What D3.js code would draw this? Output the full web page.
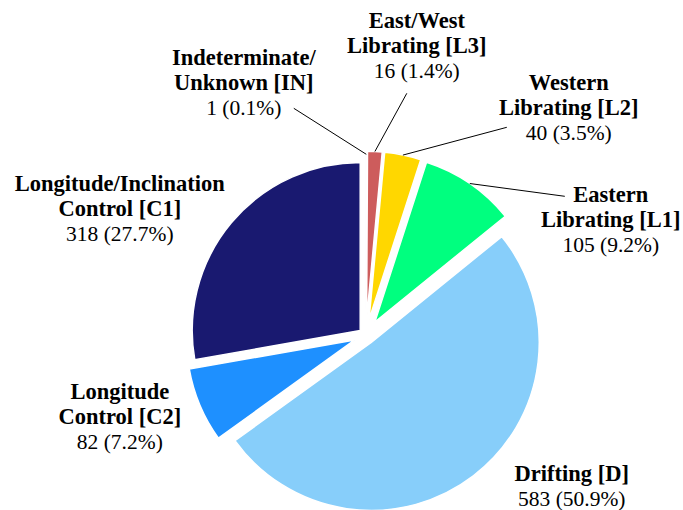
<!DOCTYPE html>
<html>
<head>
<meta charset="utf-8">
<script src="https://cdn.jsdelivr.net/npm/d3@7"></script>
<style>
  html, body { margin: 0; padding: 0; background: #fff; }
  svg { display: block; }
</style>
</head>
<body>
<svg id="chart" width="683" height="510"></svg>
<script>
// ---- data ----
const categories = ["Indeterminate/ Unknown [IN]", "East/West Librating [L3]", "Western Librating [L2]",
  "Eastern Librating [L1]", "Drifting [D]", "Longitude Control [C2]", "Longitude/Inclination Control [C1]"];
const titleLines = [
  ["Indeterminate/", "Unknown [IN]"],
  ["East/West", "Librating [L3]"],
  ["Western", "Librating [L2]"],
  ["Eastern", "Librating [L1]"],
  ["Drifting [D]"],
  ["Longitude", "Control [C2]"],
  ["Longitude/Inclination", "Control [C1]"]
];
const counts = [1, 16, 40, 105, 583, 82, 318];
const percentLabels = ["0.1%", "1.4%", "3.5%", "9.2%", "50.9%", "7.2%", "27.7%"];

// ---- style / layout config ----
const colors = ["#9370DB", "#CD5C5C", "#FFD700", "#00FF7F", "#87CEFA", "#1E90FF", "#191970"];
const explode = [13, 16, 16, 16, 9, 12, 7.3];
// label block anchor (center x, first line y) relative to the pie centre
const labelOffset = [[-122, -278], [51, -315], [203, -253], [245, -141], [206, 138], [-246, 56], [-246, -152]];
// leader line end relative to the pie centre (null = no line)
const leaderEnd = [[-72, -227], [41, -242], [141, -208], [199, -139], null, null, null];

const W = 683, H = 510;
const cx = 365.8, cy = 335.3, R = 168;
const lineH = 25.5;
const fontFamily = "'Liberation Serif', 'Times New Roman', serif";

const svg = d3.select("#chart");
const g = svg.append("g").attr("transform", `translate(${cx},${cy})`);

const pie = d3.pie().sort(null).value(d => d).startAngle(0).endAngle(2 * Math.PI);
const arcs = pie(counts);
const arc = d3.arc().innerRadius(0).outerRadius(R);

function offsetOf(a, i) {
  const mid = (a.startAngle + a.endAngle) / 2;
  return [Math.sin(mid) * explode[i], -Math.cos(mid) * explode[i]];
}

g.selectAll("path.slice")
  .data(arcs)
  .join("path")
  .attr("class", "slice")
  .attr("d", arc)
  .attr("transform", (a, i) => { const o = offsetOf(a, i); return `translate(${o[0]},${o[1]})`; })
  .attr("fill", (a, i) => colors[i])
  .attr("stroke", "#fff")
  .attr("stroke-width", 1.5)
  .attr("stroke-linejoin", "miter");

// leader lines
arcs.forEach((a, i) => {
  if (!leaderEnd[i]) return;
  const mid = (a.startAngle + a.endAngle) / 2;
  const o = offsetOf(a, i);
  const x0 = o[0] + Math.sin(mid) * R, y0 = o[1] - Math.cos(mid) * R;
  g.append("line")
    .attr("x1", x0).attr("y1", y0)
    .attr("x2", leaderEnd[i][0]).attr("y2", leaderEnd[i][1])
    .attr("stroke", "#000").attr("stroke-width", 1);
});

// labels
arcs.forEach((a, i) => {
  const [lx, ly] = labelOffset[i];
  const t = g.append("text")
    .attr("text-anchor", "middle")
    .attr("font-family", fontFamily)
    .attr("fill", "#000");
  const lines = titleLines[i];
  lines.forEach((ln, k) => {
    t.append("tspan").attr("x", lx).attr("y", ly + k * lineH)
      .attr("dominant-baseline", "central")
      .attr("font-size", 22.5)
      .attr("font-weight", "bold").text(ln);
  });
  t.append("tspan").attr("x", lx).attr("y", ly + lines.length * lineH)
    .attr("dominant-baseline", "central")
    .attr("font-size", 21.5)
    .text(`${counts[i]} (${percentLabels[i]})`);
});
</script>
</body>
</html>
